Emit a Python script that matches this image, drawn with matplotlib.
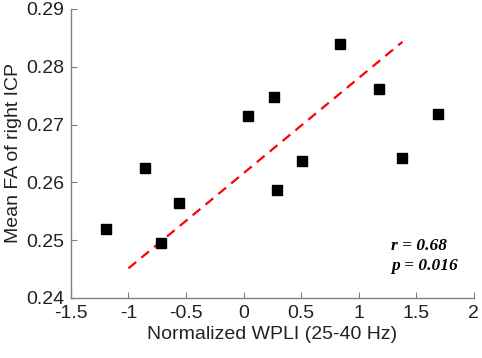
import matplotlib
matplotlib.use('Agg')
import matplotlib.pyplot as plt
import numpy as np

# data
wpli = [-1.195, -0.852, -0.713, -0.558, 0.035, 0.264, 0.290, 0.508, 0.834, 1.177, 1.377, 1.688]
fa = [0.2519, 0.2624, 0.2495, 0.2564, 0.2714, 0.2747, 0.2587, 0.2637, 0.2840, 0.2761, 0.2642, 0.2718]

# regression line end points
fit_x = [-1.0, 1.38]
fit_y = [0.2451, 0.2843]

xticks = [-1.5, -1, -0.5, 0, 0.5, 1, 1.5, 2]
yticks = [0.24, 0.25, 0.26, 0.27, 0.28, 0.29]

plt.rcParams['font.family'] = ['Liberation Sans', 'DejaVu Sans']

fig = plt.figure(figsize=(4.82, 3.58), dpi=100)
ax = fig.add_axes([0.147, 0.168, 0.836, 0.807])

ax.plot(fit_x, fit_y, '--', color='#ff0000', linewidth=1.6, dashes=(4.5, 3))
ax.plot(wpli, fa, 's', color='black', markersize=6.5, linestyle='none')

ax.set_xlim(-1.5, 2)
ax.set_ylim(0.24, 0.29)
ax.set_xticks(xticks)
ax.set_xticklabels(['-1.5', '-1', '-0.5', '0', '0.5', '1', '1.5', '2'])
ax.set_yticks(yticks)
ax.set_yticklabels(['0.24', '0.25', '0.26', '0.27', '0.28', '0.29'])

for s in ['top', 'right']:
    ax.spines[s].set_visible(False)
for s in ['left', 'bottom']:
    ax.spines[s].set_color('#808080')
    ax.spines[s].set_linewidth(1.0)
ax.tick_params(direction='in', length=4, color='#808080', labelsize=14, labelcolor='#222222', pad=5)

ax.set_xlabel('Normalized WPLI (25-40 Hz)', fontsize=14, color='#222222', labelpad=3)
ax.set_ylabel('Mean FA of right ICP', fontsize=14, color='#222222', labelpad=3)

ax.text(1.28, 0.2490, 'r = 0.68', fontsize=12.5, fontweight='bold', fontstyle='italic',
        family=['Liberation Serif', 'DejaVu Serif'], va='center', ha='left')
ax.text(1.28, 0.2455, 'p = 0.016', fontsize=12.5, fontweight='bold', fontstyle='italic',
        family=['Liberation Serif', 'DejaVu Serif'], va='center', ha='left')

fig.savefig('out.png', dpi=100)
